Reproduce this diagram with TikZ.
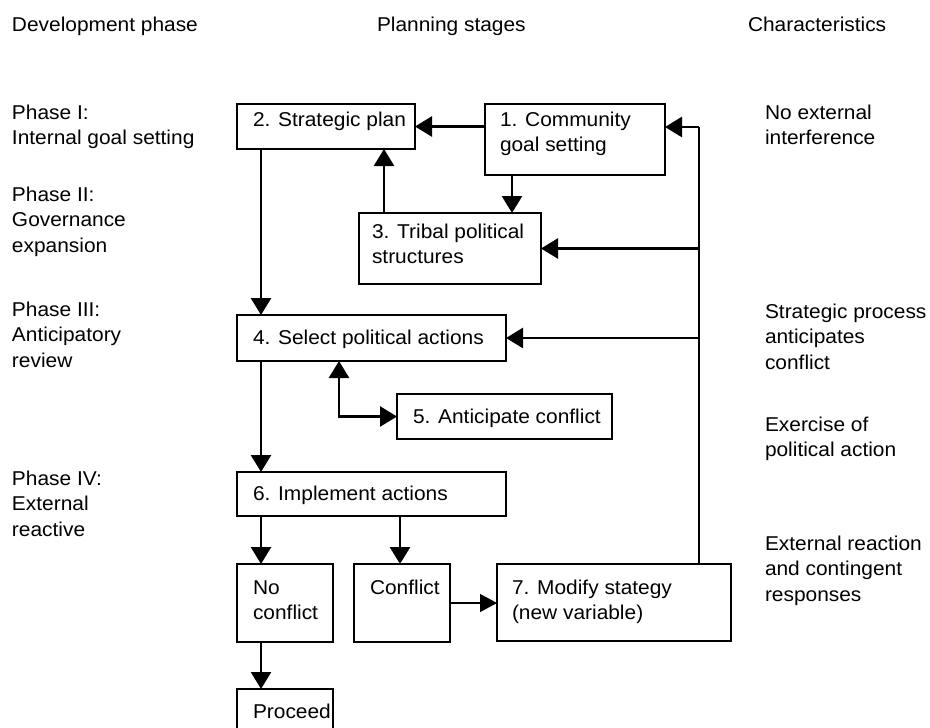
\documentclass[tikz,border=0pt]{standalone}
\usepackage{fontspec}
\setmainfont[FakeStretch=1.045]{Liberation Sans}
\usetikzlibrary{arrows.meta}
\tikzset{
  x=1pt, y=-1pt,
  every node/.style={font=\fontsize{20}{25.7}\selectfont, inner sep=0pt, outer sep=0pt},
  txt/.style={anchor=base west, align=left},
  boxnode/.style={draw, line width=1.3pt, rectangle, minimum width=#1},
  tip/.style={},
  arr/.style={line width=2.6pt, -{Triangle[width=20pt,length=17pt]}},
  dblarr/.style={line width=2.6pt, {Triangle[width=20pt,length=17pt]}-{Triangle[width=20pt,length=17pt]}},
  thinarr/.style={line width=1.4pt, -{Triangle[width=18pt,length=17pt]}},
  fbline/.style={line width=2.8pt}
}
\begin{document}
\begin{tikzpicture}
\useasboundingbox (0,0) rectangle (930,728);
\fill[white] (0,0) rectangle (930,728);

% headers
\node[txt] (hdev) at (12,31) {Development phase};
\node[txt] (hplan) at (377,31) {Planning stages};
\node[txt] (hchar) at (748,31) {Characteristics};

% left column (anchored at baseline of last line)
\node[txt] (p1) at (12,144.7) {Phase I:\\Internal goal setting};
\node[txt] (p2) at (12,252.4) {Phase II:\\Governance\\expansion};
\node[txt] (p3) at (12,367.4) {Phase III:\\Anticipatory\\review};
\node[txt] (p4) at (12,536.4) {Phase IV:\\External\\reactive};

% right column
\node[txt] (c1) at (765,144.7) {No external\\interference};
\node[txt] (c2) at (765,369.4) {Strategic process\\anticipates\\conflict};
\node[txt] (c3) at (765,456.7) {Exercise of\\political action};
\node[txt] (c4) at (765,601.4) {External reaction\\and contingent\\responses};

% boxes
\node[boxnode=178pt, minimum height=45pt] (b2) at (326,126.5) {};
\node[boxnode=180pt, minimum height=71pt] (b1) at (575,139.5) {};
\node[boxnode=182pt, minimum height=71pt] (b3) at (450,248.5) {};
\node[boxnode=269pt, minimum height=46pt] (b4) at (371.5,338) {};
\node[boxnode=215pt, minimum height=45pt] (b5) at (504.5,416.5) {};
\node[boxnode=269pt, minimum height=44pt] (b6) at (371.5,494) {};
\node[boxnode=96pt, minimum height=78pt] (nc) at (285,603) {};
\node[boxnode=96pt, minimum height=78pt] (cf) at (402,603) {};
\node[boxnode=234pt, minimum height=77pt] (b7) at (614,602.5) {};
\node[boxnode=96pt, minimum height=46pt] (pr) at (285,712) {};

% box texts
\node[txt] (t1) at (500,151.7) {1. Community\\goal setting};
\node[txt] (t2) at (253,126) {2. Strategic plan};
\node[txt] (t3) at (372,263.7) {3. Tribal political\\structures};
\node[txt] (t4) at (253,344) {4. Select political actions};
\node[txt] (t5) at (413,423) {5. Anticipate conflict};
\node[txt] (t6) at (253,500) {6. Implement actions};
\node[txt] (tnc) at (253,619.7) {No\\conflict};
\node[txt] (tcf) at (370,594) {Conflict};
\node[txt] (t7) at (512,619.7) {7. Modify stategy\\(new variable)};
\node[txt] (tpr) at (253,718) {Proceed};

% helper coordinates
\coordinate (xa) at (261,0);
\coordinate (x13) at (512,0);
\coordinate (x32) at (384,0);
\coordinate (x45) at (339,0);
\coordinate (x6c) at (400,0);
\coordinate (fx) at (699,127);

% connectors
\draw[arr] (b1.west |- b2.east) -- (b2.east);
\draw[arr] (b1.south -| x13) -- (b3.north -| x13);
\draw[arr] (b3.north -| x32) -- (b2.south -| x32);
\draw[arr] (b2.south -| xa) -- (b4.north -| xa);
\draw[dblarr] (b4.south -| x45) |- (b5.west);
\draw[arr] (b4.south -| xa) -- (b6.north -| xa);
\draw[arr] (b6.south -| xa) -- (nc.north -| xa);
\draw[arr] (b6.south -| x6c) -- (cf.north -| x6c);
\draw[thinarr] (cf.east) -- (b7.west |- cf.east);
\draw[arr] (nc.south -| xa) -- (pr.north -| xa);

% feedback loop
\draw[fbline] (b7.north -| fx) -- (fx);
\draw[arr] (fx) -- (b1.east |- fx);
\draw[arr] (fx |- b3.east) -- (b3.east);
\draw[arr] (fx |- b4.east) -- (b4.east);
\end{tikzpicture}
\end{document}
